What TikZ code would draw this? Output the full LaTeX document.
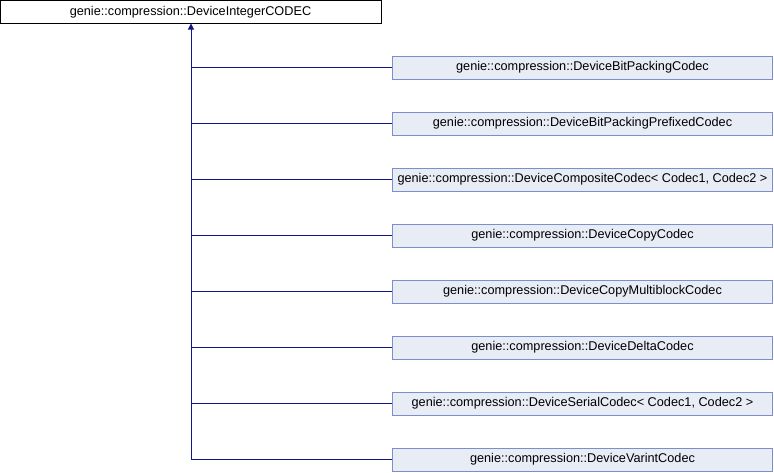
\documentclass[tikz,border=0pt]{standalone}
\usepackage{fontspec}
\setmainfont{Liberation Sans}
\usetikzlibrary{arrows.meta}
\definecolor{edgecol}{RGB}{20,20,140}
\definecolor{boxfill}{RGB}{232,236,245}
\definecolor{boxdraw}{RGB}{122,144,204}
\tikzset{
  basebox/.style={draw=black, fill=white, line width=1pt, minimum width=381pt, minimum height=23pt, inner sep=0pt, font=\fontsize{12.7}{14}\selectfont},
  childbox/.style={draw=boxdraw, fill=boxfill, line width=1pt, minimum width=380pt, minimum height=23pt, inner sep=0pt, font=\fontsize{12.7}{14}\selectfont},
  edge/.style={draw=edgecol, line width=1pt},
}
\begin{document}
\begin{tikzpicture}[x=1pt,y=-1pt]
\useasboundingbox (0,0) rectangle (774,472);
\node[basebox] (base) at (190.5,12) {genie::compression::DeviceIntegerCODEC};
\node[childbox] (c1) at (582.5,67.5) {genie::compression::DeviceBitPackingCodec};
\node[childbox] (c2) at (582.5,123.5) {genie::compression::DeviceBitPackingPrefixedCodec};
\node[childbox] (c3) at (582.5,179.5) {genie::compression::DeviceCompositeCodec< Codec1, Codec2 >};
\node[childbox] (c4) at (582.5,235.5) {genie::compression::DeviceCopyCodec};
\node[childbox] (c5) at (582.5,291.5) {genie::compression::DeviceCopyMultiblockCodec};
\node[childbox] (c6) at (582.5,347.5) {genie::compression::DeviceDeltaCodec};
\node[childbox] (c7) at (582.5,403.5) {genie::compression::DeviceSerialCodec< Codec1, Codec2 >};
\node[childbox] (c8) at (582.5,459.5) {genie::compression::DeviceVarintCodec};
\coordinate (top) at (191,23.5);
\foreach \i in {1,...,8} {
  \coordinate (j\i) at (191,{11.5+56*\i});
  \draw[edge] (j\i) -- (c\i.west);
}
\draw[edge, -{Triangle[length=6pt,width=6pt]}] (j8) -- (top);
\end{tikzpicture}
\end{document}
